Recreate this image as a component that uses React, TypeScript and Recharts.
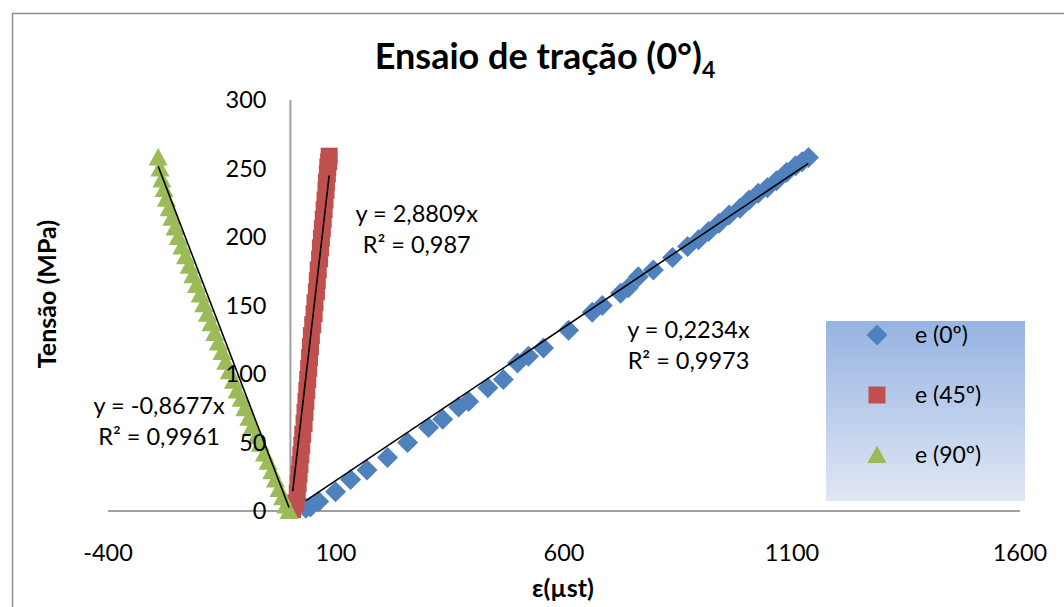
import React from 'react';
import { ScatterChart, Scatter, XAxis, YAxis, ReferenceLine, ReferenceDot } from 'recharts';

// chart frame
const W = 1064;
const H = 607;
const PLOT_LEFT = 108;
const PLOT_RIGHT = 1020;
const PLOT_TOP = 100;
const PLOT_BOTTOM = 511;
const X_MIN = -400;
const X_MAX = 1600;
const X_AXIS_H = 60;
const Y_AXIS_W = 2;
// pixel column of x = 0, where the value axis sits
const ZERO_PX = PLOT_LEFT + ((0 - X_MIN) / (X_MAX - X_MIN)) * (PLOT_RIGHT - PLOT_LEFT);

const FONT = 'Lato, "Open Sans", sans-serif';

const xTicks = [-400, 100, 600, 1100, 1600];
const yTicks = [0, 50, 100, 150, 200, 250, 300];

const seriesNames = ['e (0º)', 'e (45º)', 'e (90º)'];
const colors = ['#4f81bd', '#c0504d', '#9bbb59'];

// strain (µst) / stress (MPa) readings
const e0 = [
  { x: 34, y: 2 }, { x: 44, y: 3 }, { x: 62, y: 7 }, { x: 99, y: 14 }, { x: 132, y: 23 },
  { x: 168, y: 30 }, { x: 213, y: 39 }, { x: 257, y: 50 }, { x: 303, y: 61 }, { x: 334, y: 67 },
  { x: 369, y: 76 }, { x: 391, y: 80 }, { x: 433, y: 90 }, { x: 467, y: 96 }, { x: 498, y: 108 },
  { x: 522, y: 113 }, { x: 555, y: 119 }, { x: 610, y: 132 }, { x: 662, y: 145 }, { x: 684, y: 150 },
  { x: 724, y: 159 }, { x: 741, y: 163 }, { x: 763, y: 171 }, { x: 796, y: 176 }, { x: 838, y: 185 },
  { x: 871, y: 193 }, { x: 895, y: 198 }, { x: 917, y: 204 }, { x: 940, y: 210 }, { x: 962, y: 216 },
  { x: 986, y: 221 }, { x: 1006, y: 227 }, { x: 1026, y: 232 }, { x: 1046, y: 236 }, { x: 1066, y: 241 },
  { x: 1088, y: 247 }, { x: 1108, y: 252 }, { x: 1122, y: 255 }, { x: 1136, y: 258 },
];

const e45 = [
  { x: 5, y: 1 }, { x: 12, y: 6 }, { x: 15, y: 13 }, { x: 17, y: 20 }, { x: 19, y: 27 },
  { x: 21, y: 34 }, { x: 23, y: 41 }, { x: 25, y: 48 }, { x: 27, y: 56 }, { x: 30, y: 64 },
  { x: 32, y: 72 }, { x: 34, y: 80 }, { x: 36, y: 88 }, { x: 38, y: 96 }, { x: 40, y: 104 },
  { x: 42, y: 112 }, { x: 44, y: 120 }, { x: 46, y: 128 }, { x: 49, y: 136 }, { x: 52, y: 144 },
  { x: 54, y: 152 }, { x: 57, y: 160 }, { x: 59, y: 168 }, { x: 61, y: 176 }, { x: 64, y: 184 },
  { x: 66, y: 192 }, { x: 68, y: 199 }, { x: 70, y: 206 }, { x: 72, y: 213 }, { x: 74, y: 220 },
  { x: 76, y: 227 }, { x: 78, y: 234 }, { x: 79, y: 240 }, { x: 81, y: 246 }, { x: 82, y: 251 },
  { x: 84, y: 255 }, { x: 85, y: 259 },
];

const e90 = [
  { x: -3, y: 0 }, { x: -10, y: 4 }, { x: -17, y: 10 }, { x: -25, y: 16 }, { x: -33, y: 23 },
  { x: -41, y: 29 }, { x: -49, y: 36 }, { x: -57, y: 42 }, { x: -66, y: 49 }, { x: -74, y: 55 },
  { x: -83, y: 62 }, { x: -91, y: 68 }, { x: -100, y: 75 }, { x: -108, y: 82 }, { x: -117, y: 88 },
  { x: -125, y: 95 }, { x: -134, y: 102 }, { x: -142, y: 109 }, { x: -150, y: 116 }, { x: -158, y: 123 },
  { x: -166, y: 130 }, { x: -174, y: 137 }, { x: -182, y: 144 }, { x: -190, y: 151 }, { x: -198, y: 158 },
  { x: -206, y: 165 }, { x: -214, y: 172 }, { x: -222, y: 179 }, { x: -230, y: 186 }, { x: -238, y: 193 },
  { x: -246, y: 200 }, { x: -253, y: 207 }, { x: -260, y: 214 }, { x: -266, y: 221 }, { x: -272, y: 228 },
  { x: -277, y: 235 }, { x: -282, y: 242 }, { x: -286, y: 250 }, { x: -290, y: 258 },
];

// linear fits through the origin
const slopes = [0.2234, 2.8809, -0.8677];
const eqLabels = ['y = 0,2234x', 'y = 2,8809x', 'y = -0,8677x'];
const r2Labels = ['R² = 0,9973', 'R² = 0,987', 'R² = 0,9961'];
// where each fit's equation sits (data units)
const eqAnchors = [
  { x: 873, y: 126 },
  { x: 277, y: 211 },
  { x: -288, y: 71 },
];

const fitLine = (pts: { x: number; y: number }[], m: number) => {
  const xs = pts.map((p) => p.x);
  const lo = Math.min(...xs);
  const hi = Math.max(...xs);
  return [
    { x: lo, y: m * lo },
    { x: hi, y: m * hi },
  ];
};

const Diamond = ({ cx, cy, fill }: any) => (
  <polygon points={`${cx},${cy - 10.5} ${cx + 10.5},${cy} ${cx},${cy + 10.5} ${cx - 10.5},${cy}`} fill={fill} />
);
const Square = ({ cx, cy, fill }: any) => <rect x={cx - 8.5} y={cy - 8.5} width={17} height={17} fill={fill} />;
const Triangle = ({ cx, cy, fill }: any) => (
  <polygon points={`${cx},${cy - 9.5} ${cx + 9.5},${cy + 8} ${cx - 9.5},${cy + 8}`} fill={fill} />
);
const NoMark = () => <g />;
const markers = [Diamond, Square, Triangle];

const XTick = ({ x, payload }: any) => (
  <text x={x} y={PLOT_BOTTOM + 50} textAnchor="middle" fontSize={23.5} fontFamily={FONT} fill="#000">
    {payload.value}
  </text>
);

const YTick = ({ y, payload }: any) => (
  <text x={ZERO_PX - 24} y={y + 8} textAnchor="end" fontSize={23.5} fontFamily={FONT} fill="#000">
    {payload.value}
  </text>
);

const FitLabel = (i: number) => (props: any) => (
  <text x={props.cx} y={props.cy} textAnchor="middle" fontSize={23.5} fontFamily={FONT} fill="#000">
    <tspan x={props.cx} dy={0}>{eqLabels[i]}</tspan>
    <tspan x={props.cx} dy={31}>{r2Labels[i]}</tspan>
  </text>
);

export default function App() {
  const sets = [e0, e45, e90];
  return (
    <div style={{ position: 'absolute', left: 0, top: 0, width: W, height: H, overflow: 'hidden', background: '#fff' }}>
      <ScatterChart
        width={W}
        height={H}
        margin={{
          top: PLOT_TOP,
          right: W - PLOT_RIGHT,
          left: PLOT_LEFT - Y_AXIS_W,
          bottom: H - PLOT_BOTTOM - X_AXIS_H,
        }}
      >
        <XAxis
          type="number"
          dataKey="x"
          domain={[X_MIN, X_MAX]}
          ticks={xTicks}
          allowDataOverflow
          height={X_AXIS_H}
          tickLine={false}
          axisLine={{ stroke: '#a0a0a0', strokeWidth: 2 }}
          tick={<XTick />}
        />
        <YAxis
          type="number"
          dataKey="y"
          domain={[0, 300]}
          ticks={yTicks}
          width={Y_AXIS_W}
          tickLine={false}
          axisLine={false}
          tick={YTick}
        />
        <ReferenceLine x={0} stroke="#a0a0a0" strokeWidth={2} />
        {sets.map((d, i) => (
          <Scatter
            key={seriesNames[i]}
            name={seriesNames[i]}
            data={d}
            fill={colors[i]}
            shape={markers[i]}
            isAnimationActive={false}
          />
        ))}
        {sets.map((d, i) => (
          <Scatter
            key={`fit-${i}`}
            data={fitLine(d, slopes[i])}
            line={{ stroke: '#000', strokeWidth: 1.6 }}
            shape={NoMark}
            legendType="none"
            isAnimationActive={false}
          />
        ))}
        {eqAnchors.map((a, i) => (
          <ReferenceDot key={`eq-${i}`} x={a.x} y={a.y} r={0} shape={FitLabel(i)} />
        ))}
      </ScatterChart>

      <svg width={W} height={H} style={{ position: 'absolute', left: 0, top: 0, pointerEvents: 'none' }}>
        <defs>
          <linearGradient id="legendFill" x1="0" y1="0" x2="0" y2="1">
            <stop offset="0%" stopColor="#97b3e2" />
            <stop offset="100%" stopColor="#e0e7f4" />
          </linearGradient>
        </defs>
        <rect x={12.5} y={13.5} width={1200} height={800} fill="none" stroke="#8c8c8c" strokeWidth={1.5} />
        <text x={545} y={69} textAnchor="middle" fontSize={36} fontWeight="bold" fontFamily={FONT} fill="#000">
          Ensaio de tração (0°)
          <tspan fontSize={23} dy={9}>4</tspan>
        </text>
        <text
          x={0}
          y={0}
          transform={`translate(56, 294) rotate(-90)`}
          textAnchor="middle"
          fontSize={25}
          fontWeight="bold"
          fontFamily={FONT}
          fill="#000"
        >
          Tensão (MPa)
        </text>
        <text x={563} y={597} textAnchor="middle" fontSize={25} fontWeight="bold" fontFamily={FONT} fill="#000">
          ε(µst)
        </text>

        {/* legend */}
        <rect x={826} y={321} width={199} height={180} fill="url(#legendFill)" />
        {seriesNames.map((name, i) => {
          const cy = 335 + i * 60;
          const Mark = markers[i];
          return (
            <g key={name}>
              <Mark cx={877} cy={cy} fill={colors[i]} />
              <text x={915} y={cy + 8} fontSize={23} fontFamily={FONT} fill="#000">
                {name}
              </text>
            </g>
          );
        })}
      </svg>
    </div>
  );
}
